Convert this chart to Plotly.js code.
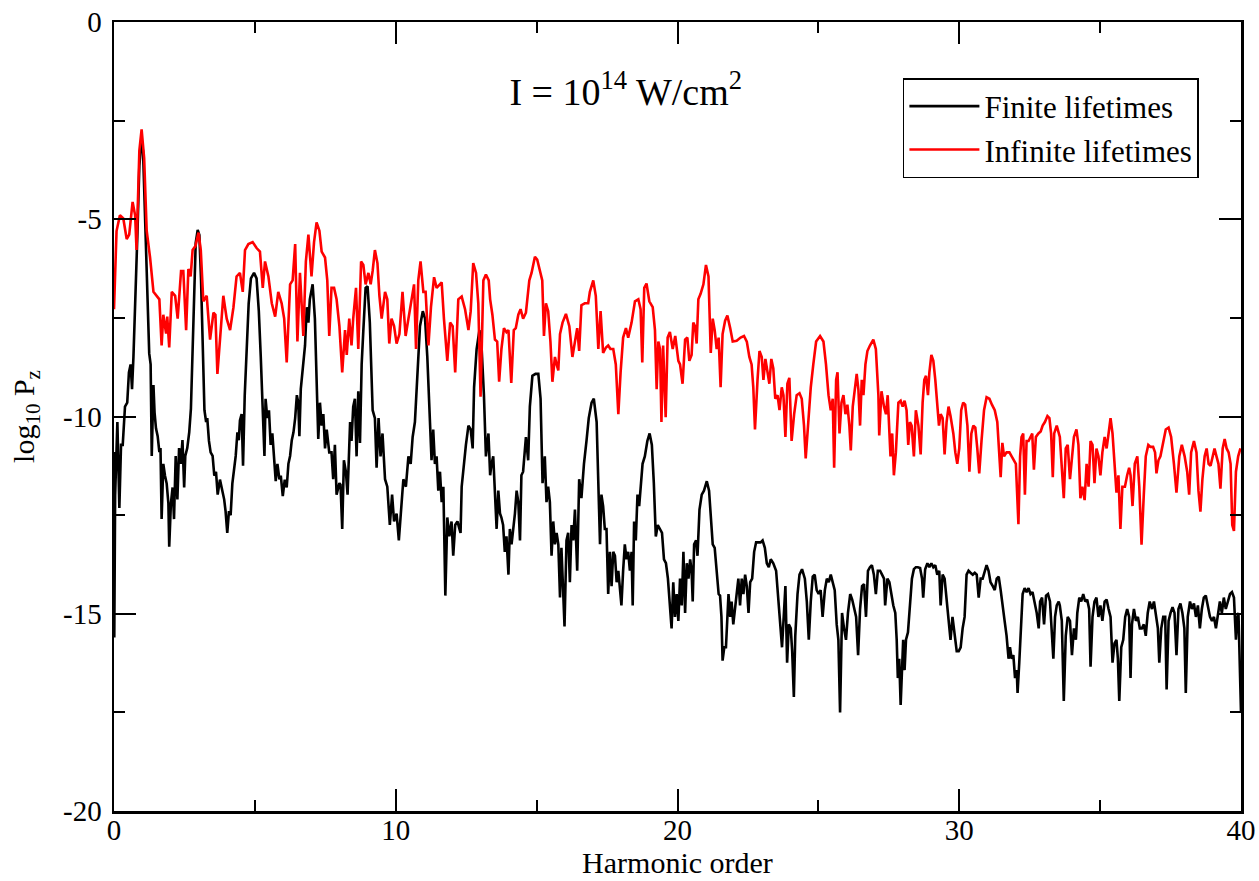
<!DOCTYPE html>
<html>
<head>
<meta charset="utf-8">
<script src="https://cdn.plot.ly/plotly-3.0.1.min.js"></script>
<style>html,body{margin:0;padding:0;background:#fff;}#chart{width:1259px;height:881px;}</style>
</head>
<body>
<div id="chart"></div>
<script>
// Series names
const seriesNames = ["Finite lifetimes", "Infinite lifetimes"];

// Finite lifetimes: [harmonic order, log10 Pz]
const finitePts = [
[0,-10.9],[0.01,-15.6],[0.04,-12.0],[0.12,-10.14],[0.19,-12.32],[0.25,-10.72],[0.31,-10.72],[0.39,-9.75],[0.47,-9.65],[0.53,-8.88],[0.59,-8.68],[0.64,-9.31],[0.69,-8.49],[0.76,-7.13],[0.83,-5.39],[0.90,-3.64],[0.97,-3.06],[1.03,-3.26],[1.10,-4.9],[1.18,-7.33],[1.25,-8.4],[1.30,-8.68],[1.34,-11.0],[1.40,-9.2],[1.44,-9.9],[1.49,-10.3],[1.55,-10.5],[1.61,-10.9],[1.65,-10.8],[1.69,-12.6],[1.75,-11.2],[1.81,-11.5],[1.87,-11.7],[1.93,-12.2],[1.96,-13.3],[2.02,-12.2],[2.08,-11.8],[2.13,-12.6],[2.19,-11.0],[2.25,-12.1],[2.31,-10.8],[2.37,-11.2],[2.43,-10.6],[2.49,-11.8],[2.53,-11.0],[2.60,-10.8],[2.67,-10.4],[2.73,-9.8],[2.79,-8.3],[2.84,-6.55],[2.90,-5.6],[2.97,-5.27],[3.03,-5.4],[3.09,-6.55],[3.15,-8.3],[3.21,-9.84],[3.27,-10.14],[3.31,-10.04],[3.37,-10.62],[3.43,-10.91],[3.50,-11.0],[3.56,-11.5],[3.62,-11.4],[3.68,-11.98],[3.76,-11.6],[3.83,-11.8],[3.91,-12.1],[3.96,-12.4],[4.02,-12.95],[4.08,-12.4],[4.14,-12.5],[4.20,-11.7],[4.26,-11.4],[4.32,-11.0],[4.38,-10.4],[4.43,-10.6],[4.47,-10.1],[4.53,-9.94],[4.58,-11.25],[4.64,-9.46],[4.71,-8.3],[4.78,-7.13],[4.86,-6.5],[4.97,-6.36],[5.06,-6.5],[5.14,-7.33],[5.21,-8.5],[5.28,-9.65],[5.34,-11.0],[5.38,-9.55],[5.44,-10.04],[5.50,-9.84],[5.56,-10.72],[5.62,-10.43],[5.68,-11.0],[5.74,-11.64],[5.80,-11.2],[5.87,-11.59],[5.92,-11.5],[5.99,-12.02],[6.06,-11.6],[6.13,-11.8],[6.19,-11.2],[6.25,-11.0],[6.31,-10.6],[6.37,-10.4],[6.43,-10.04],[6.49,-9.46],[6.54,-9.65],[6.58,-10.5],
[6.63,-9.3],[6.69,-8.88],[6.78,-8.2],[6.84,-7.23],[6.90,-7.62],[6.95,-7.03],[7.05,-6.65],[7.13,-7.52],[7.19,-9.26],[7.25,-10.57],[7.31,-9.65],[7.37,-10.23],[7.43,-9.94],[7.49,-10.81],[7.55,-10.33],[7.64,-10.91],[7.72,-10.91],[7.78,-11.59],[7.84,-10.72],[7.90,-11.98],[8.0,-11.69],[8.04,-11.73],[8.10,-12.85],[8.16,-11.11],[8.23,-11.40],[8.29,-11.98],[8.38,-10.14],[8.43,-10.62],[8.49,-9.75],[8.55,-9.55],[8.61,-11.01],[8.67,-9.36],[8.73,-10.67],[8.79,-8.68],[8.85,-7.81],[8.93,-6.74],[9.0,-6.70],[9.08,-7.62],[9.18,-9.84],[9.26,-10.04],[9.32,-11.30],[9.39,-10.04],[9.46,-11.01],[9.53,-10.43],[9.62,-11.59],[9.70,-11.78],[9.79,-12.75],[9.87,-11.98],[9.94,-12.66],[10.03,-12.46],[10.11,-13.14],[10.19,-12.36],[10.27,-11.59],[10.36,-11.78],[10.45,-11.01],[10.53,-11.20],[10.60,-10.52],[10.68,-10.14],[10.77,-8.78],[10.86,-7.71],[10.96,-7.33],[11.04,-7.52],[11.12,-8.49],[11.22,-10.23],[11.27,-11.11],[11.33,-10.33],[11.39,-11.20],[11.45,-11.01],[11.51,-11.88],[11.57,-11.40],[11.63,-12.17],[11.69,-11.78],[11.76,-14.54],[11.83,-12.56],[11.90,-13.04],[11.98,-12.66],[12.04,-13.53],[12.11,-12.75],[12.19,-12.66],[12.26,-12.85],[12.30,-12.95],[12.34,-11.78],[12.40,-11.30],[12.49,-10.72],[12.58,-10.23],[12.66,-10.33],[12.73,-10.81],[12.78,-9.26],[12.87,-8.29],[12.97,-7.81],[13.05,-8.29],[13.13,-9.46],[13.20,-11.01],[13.29,-10.43],[13.35,-11.49],
[13.40,-11.20],[13.46,-11.01],[13.52,-11.78],[13.58,-12.85],[13.64,-11.88],[13.70,-12.46],[13.75,-12.56],[13.81,-12.75],[13.87,-13.43],[13.93,-13.04],[14.0,-14.01],[14.05,-12.85],[14.11,-13.24],[14.17,-12.85],[14.23,-12.46],[14.29,-11.88],[14.35,-12.17],[14.41,-13.14],[14.46,-11.49],[14.52,-11.40],[14.62,-10.52],[14.70,-11.11],[14.76,-9.75],[14.85,-8.97],[14.96,-8.92],[15.06,-8.92],[15.14,-9.55],[15.21,-11.69],[15.29,-11.01],[15.35,-12.17],[15.41,-11.78],[15.47,-12.17],[15.53,-13.53],[15.59,-12.66],[15.65,-13.24],[15.71,-12.95],[15.77,-13.24],[15.83,-14.59],[15.88,-13.33],[15.94,-14.40],[15.99,-15.32],[16.06,-13.14],[16.12,-12.95],[16.18,-14.20],[16.24,-12.75],[16.30,-13.14],[16.36,-12.36],[16.44,-13.91],[16.51,-11.59],[16.59,-12.07],[16.68,-11.20],[16.77,-10.62],[16.85,-10.04],[16.95,-9.65],[17.03,-9.55],[17.13,-10.14],[17.20,-11.98],[17.25,-13.24],[17.30,-11.98],[17.36,-12.27],[17.42,-12.85],[17.48,-12.85],[17.54,-14.50],[17.60,-13.43],[17.66,-14.30],[17.72,-13.43],[17.78,-13.53],[17.84,-14.20],[17.90,-13.91],[17.96,-14.30],[18.01,-14.79],[18.07,-13.91],[18.13,-13.24],[18.19,-13.62],[18.25,-13.43],[18.31,-13.91],[18.37,-13.43],[18.41,-14.79],[18.46,-12.66],[18.52,-13.14],[18.58,-11.98],[18.64,-12.27],[18.70,-11.59],[18.76,-11.20],[18.84,-11.01],[18.93,-10.62],[19.01,-10.43],[19.09,-10.72],[19.16,-11.69],[19.23,-13.04],[19.30,-12.75],[19.38,-12.85],[19.45,-12.95],[19.52,-13.62],[19.59,-13.72],[19.66,-14.11],[19.73,-14.69],[19.79,-15.37],[19.85,-14.20],[19.91,-15.08],[19.97,-14.50],[20.03,-15.18],
[20.09,-14.11],[20.15,-14.79],[20.21,-13.43],[20.27,-14.98],[20.33,-13.72],[20.39,-14.11],[20.45,-13.62],[20.50,-13.91],[20.54,-14.69],[20.59,-13.24],[20.66,-13.14],[20.71,-13.53],[20.78,-12.36],[20.86,-11.98],[20.94,-11.88],[21.04,-11.64],[21.12,-11.88],[21.19,-12.66],[21.25,-13.24],[21.32,-13.33],[21.39,-13.91],[21.46,-14.50],[21.51,-14.54],[21.56,-15.08],[21.60,-16.19],[21.66,-15.85],[21.72,-15.85],[21.77,-14.79],[21.81,-14.50],[21.87,-15.08],[21.92,-14.69],[21.98,-15.27],[22.04,-14.88],[22.10,-14.59],[22.16,-14.11],[22.22,-14.79],[22.28,-14.11],[22.34,-14.50],[22.40,-14.01],[22.46,-14.30],[22.52,-14.98],[22.58,-14.20],[22.65,-14.11],[22.72,-13.43],[22.79,-13.19],[22.87,-13.19],[22.95,-13.19],[23.02,-13.14],[23.10,-13.33],[23.17,-13.72],[23.24,-13.82],[23.31,-13.62],[23.40,-13.72],[23.50,-13.91],[23.57,-14.50],[23.64,-15.18],[23.71,-15.85],[23.77,-15.08],[23.83,-14.30],[23.89,-16.24],[23.95,-15.27],[24.02,-15.37],[24.07,-15.95],[24.13,-17.11],[24.18,-15.56],[24.26,-14.50],[24.33,-14.01],[24.42,-13.87],[24.52,-14.11],[24.59,-14.69],[24.66,-15.66],[24.73,-14.69],[24.80,-14.06],[24.87,-14.01],[24.94,-14.40],[25.01,-14.50],[25.08,-14.40],[25.15,-15.08],[25.23,-14.40],[25.30,-14.11],[25.37,-14.20],[25.44,-14.01],[25.51,-14.20],[25.58,-14.40],[25.65,-15.27],[25.71,-15.66],[25.77,-17.50],[25.84,-14.98],[25.91,-15.37],[25.98,-15.66],[26.05,-14.98],[26.13,-14.50],[26.20,-14.64],[26.27,-14.88],[26.34,-15.08],[26.41,-16.05],[26.48,-14.88],[26.55,-14.30],[26.62,-14.25],[26.69,-15.08],[26.76,-13.91],[26.83,-13.82],
[26.90,-13.77],[26.97,-14.01],[27.04,-14.50],[27.11,-13.91],[27.19,-13.91],[27.26,-14.01],[27.33,-14.11],[27.37,-14.79],[27.45,-14.11],[27.52,-14.20],[27.59,-14.50],[27.66,-14.79],[27.73,-14.98],[27.78,-15.66],[27.82,-16.63],[27.87,-16.14],[27.92,-17.31],[27.97,-16.24],[28.01,-15.66],[28.06,-16.43],[28.11,-15.66],[28.18,-15.47],[28.25,-14.79],[28.32,-14.11],[28.39,-13.87],[28.46,-13.82],[28.53,-13.82],[28.61,-13.84],[28.68,-14.11],[28.72,-14.59],[28.79,-13.87],[28.87,-13.72],[28.94,-13.82],[29.01,-13.72],[29.08,-13.82],[29.15,-13.77],[29.22,-14.01],[29.29,-13.91],[29.34,-14.79],[29.41,-14.01],[29.48,-14.11],[29.55,-14.69],[29.62,-15.18],[29.69,-15.66],[29.76,-15.08],[29.84,-15.56],[29.91,-15.95],[29.98,-15.95],[30.05,-15.85],[30.12,-15.37],[30.19,-15.08],[30.26,-14.01],[30.33,-13.91],[30.40,-13.96],[30.48,-14.01],[30.55,-13.96],[30.62,-14.01],[30.69,-14.59],[30.76,-14.11],[30.83,-14.11],[30.90,-13.91],[30.97,-13.77],[31.04,-13.91],[31.11,-14.20],[31.19,-14.30],[31.26,-14.40],[31.33,-14.11],[31.40,-14.06],[31.47,-14.40],[31.54,-14.88],[31.61,-15.18],[31.68,-15.56],[31.75,-16.14],[31.80,-15.85],[31.86,-16.14],[31.92,-16.05],[31.98,-16.63],[32.04,-16.43],[32.07,-17.01],[32.13,-16.24],[32.18,-15.47],[32.25,-14.50],[32.32,-14.35],[32.39,-14.45],[32.46,-14.35],[32.53,-14.50],[32.60,-14.45],[32.68,-14.69],[32.75,-14.98],[32.82,-15.37],[32.87,-14.69],[32.94,-14.59],[33.01,-15.27],[33.08,-14.54],[33.15,-14.50],[33.22,-14.69],[33.29,-15.47],[33.34,-16.14],[33.40,-15.08],[33.46,-14.79],[33.53,-14.69],
[33.57,-14.79],[33.64,-15.18],[33.71,-17.21],[33.78,-15.56],[33.85,-15.08],[33.93,-15.18],[34.0,-16.05],[34.07,-15.37],[34.14,-15.66],[34.19,-14.98],[34.26,-14.59],[34.33,-14.69],[34.40,-14.50],[34.47,-14.69],[34.54,-14.64],[34.61,-14.88],[34.66,-16.34],[34.73,-15.08],[34.80,-14.69],[34.87,-14.59],[34.94,-15.08],[35.01,-14.79],[35.08,-15.18],[35.16,-14.69],[35.23,-14.64],[35.30,-14.88],[35.37,-15.08],[35.44,-16.24],[35.51,-15.75],[35.58,-15.66],[35.63,-16.14],[35.68,-17.21],[35.75,-15.85],[35.82,-15.66],[35.89,-15.08],[35.96,-14.88],[36.03,-15.08],[36.08,-16.63],[36.13,-15.27],[36.20,-14.88],[36.27,-15.18],[36.34,-15.08],[36.41,-15.37],[36.48,-15.37],[36.55,-15.27],[36.62,-15.56],[36.69,-14.98],[36.76,-14.69],[36.84,-14.88],[36.91,-14.69],[36.98,-14.98],[37.05,-15.37],[37.10,-16.24],[37.17,-15.37],[37.24,-15.08],[37.31,-15.08],[37.36,-16.92],[37.43,-15.18],[37.50,-14.98],[37.57,-14.83],[37.64,-14.98],[37.71,-16.05],[37.78,-14.88],[37.85,-14.74],[37.92,-14.98],[37.99,-15.37],[38.04,-17.01],[38.11,-15.08],[38.19,-14.69],[38.26,-14.88],[38.33,-14.74],[38.40,-15.08],[38.47,-14.79],[38.54,-15.37],[38.61,-14.88],[38.68,-14.59],[38.75,-14.54],[38.83,-14.79],[38.90,-15.08],[38.97,-15.18],[39.04,-15.08],[39.11,-15.37],[39.18,-14.98],[39.25,-14.69],[39.32,-14.98],[39.39,-14.59],[39.46,-14.88],[39.54,-14.69],[39.61,-14.50],[39.68,-14.45],[39.75,-14.59],[39.82,-15.66],[39.87,-15.08],[39.91,-14.98],[39.96,-16.34],[40.0,-17.50]
];

// Infinite lifetimes: [harmonic order, log10 Pz]
const infinitePts = [
[0.0,-7.28],[0.09,-5.3],[0.21,-4.9],[0.33,-4.98],[0.45,-5.5],[0.54,-5.39],[0.66,-4.56],[0.75,-4.9],[0.80,-5.78],[0.90,-3.26],[0.98,-2.72],[1.07,-3.45],[1.16,-5.29],[1.28,-5.97],[1.40,-6.84],[1.52,-6.94],[1.61,-7.03],[1.69,-8.2],[1.75,-7.42],[1.85,-7.9],[1.89,-7.47],[1.96,-8.25],[2.05,-6.84],[2.17,-6.94],[2.26,-7.52],[2.38,-6.31],[2.46,-6.31],[2.56,-7.81],[2.64,-6.26],[2.72,-6.45],[2.79,-5.78],[2.89,-5.68],[3.0,-5.34],[3.08,-5.78],[3.17,-7.08],[3.29,-6.94],[3.41,-8.05],[3.53,-7.37],[3.60,-7.42],[3.67,-8.92],[3.76,-8.0],[3.88,-6.94],[4.0,-7.52],[4.12,-7.81],[4.24,-7.23],[4.35,-6.45],[4.47,-6.36],[4.57,-6.84],[4.65,-5.78],[4.77,-5.63],[4.92,-5.58],[5.06,-5.73],[5.18,-5.82],[5.28,-6.74],[5.36,-6.07],[5.48,-6.45],[5.60,-7.13],[5.72,-7.47],[5.83,-6.84],[5.95,-7.13],[6.04,-7.52],[6.13,-8.63],[6.25,-6.65],[6.34,-6.55],[6.43,-5.63],[6.51,-8.10],[6.60,-6.36],
[6.72,-7.96],[6.81,-6.07],[6.90,-5.39],[7.01,-6.45],[7.10,-5.58],[7.19,-5.08],[7.29,-5.29],[7.37,-5.82],[7.49,-5.97],[7.57,-6.55],[7.64,-7.96],[7.72,-6.74],[7.81,-6.74],[7.90,-7.03],[8.0,-7.71],[8.10,-8.88],[8.20,-7.81],[8.26,-8.44],[8.35,-7.52],[8.43,-8.2],[8.49,-7.52],[8.59,-6.74],[8.67,-8.29],[8.77,-6.07],[8.85,-6.16],[8.93,-6.65],[9.03,-6.36],[9.11,-6.65],[9.18,-6.31],[9.26,-5.78],[9.35,-6.11],[9.42,-6.94],[9.50,-7.52],[9.62,-6.84],[9.70,-7.03],[9.77,-8.15],[9.85,-7.52],[9.94,-7.71],[10.03,-8.15],[10.13,-7.91],[10.24,-6.84],[10.35,-7.96],[10.45,-7.52],[10.56,-6.94],[10.65,-6.65],[10.72,-8.29],[10.80,-6.55],[10.88,-6.07],[10.98,-6.84],[11.06,-6.84],[11.16,-8.2],[11.25,-7.23],[11.36,-6.47],[11.45,-6.74],[11.55,-6.65],[11.63,-6.60],[11.71,-7.52],[11.83,-8.59],[11.93,-7.62],[12.02,-7.71],[12.11,-8.88],[12.22,-7.03],[12.34,-6.96],[12.46,-7.28],[12.58,-7.81],[12.66,-7.33],[12.75,-6.11],[12.85,-6.36],[12.93,-7.13],[13.01,-9.5],[13.11,-6.55],[13.20,-6.40],[13.30,-6.55],[13.35,-7.03],
[13.43,-7.42],[13.52,-8.05],[13.60,-8.1],[13.67,-9.12],[13.75,-8.29],[13.84,-7.76],[13.93,-7.86],[14.0,-7.81],[14.10,-9.15],[14.19,-7.81],[14.26,-7.76],[14.35,-7.42],[14.43,-7.28],[14.52,-7.52],[14.62,-7.37],[14.74,-6.55],[14.82,-6.36],[14.94,-5.95],[15.02,-6.02],[15.12,-6.31],[15.20,-6.55],[15.26,-7.96],[15.33,-7.13],[15.41,-7.33],[15.49,-8.1],[15.56,-9.12],[15.65,-8.49],[15.71,-8.68],[15.77,-8.83],[15.83,-7.91],[15.92,-7.62],[16.04,-7.40],[16.16,-7.71],[16.27,-8.49],[16.36,-8.05],[16.44,-7.76],[16.51,-8.34],[16.59,-7.18],[16.71,-7.13],[16.83,-7.13],[16.89,-6.84],[17.01,-6.55],[17.10,-6.94],[17.19,-8.29],[17.27,-7.33],[17.36,-8.39],[17.46,-8.25],[17.54,-8.2],[17.62,-8.29],[17.72,-8.29],[17.81,-8.68],[17.90,-9.94],[17.98,-8.88],[18.07,-8.0],[18.17,-7.76],[18.25,-8.0],[18.37,-7.62],[18.49,-7.08],[18.61,-7.03],[18.69,-7.28],[18.75,-8.63],[18.82,-6.74],[18.90,-6.63],[19.0,-7.08],[19.12,-7.23],[19.20,-7.81],[19.26,-9.31],[19.32,-8.1],[19.38,-8.29],[19.43,-10.14],[19.49,-8.2],[19.58,-10.02],[19.65,-8.0],[19.73,-7.86],[19.83,-8.29],[19.92,-7.96],[20.03,-8.59],
[20.09,-8.68],[20.18,-9.17],[20.27,-8.05],[20.35,-8.0],[20.42,-8.59],[20.50,-8.44],[20.56,-7.62],[20.62,-7.71],[20.68,-8.15],[20.74,-7.03],[20.82,-6.89],[20.92,-6.65],[21.01,-6.16],[21.10,-6.45],[21.18,-8.39],[21.25,-7.52],[21.32,-7.81],[21.39,-8.29],[21.46,-8.0],[21.53,-9.26],[21.60,-7.91],[21.69,-7.57],[21.77,-7.44],[21.87,-7.76],[21.96,-8.10],[22.10,-8.08],[22.24,-8.0],[22.36,-7.96],[22.46,-8.1],[22.55,-8.49],[22.63,-8.68],[22.69,-9.26],[22.75,-10.33],[22.84,-9.07],[22.91,-8.34],[22.99,-8.49],[23.05,-9.07],[23.12,-8.54],[23.19,-8.88],[23.26,-9.17],[23.33,-8.54],[23.40,-8.78],[23.47,-9.55],[23.55,-9.46],[23.62,-9.84],[23.70,-9.26],[23.76,-9.46],[23.83,-10.52],[23.90,-9.17],[23.97,-9.02],[24.05,-10.62],[24.14,-9.94],[24.23,-9.46],[24.33,-9.41],[24.41,-9.55],[24.49,-10.23],[24.55,-11.06],[24.65,-9.94],[24.73,-9.26],[24.82,-8.68],[24.92,-8.10],[25.06,-7.96],[25.18,-8.10],[25.27,-8.68],[25.36,-9.46],[25.44,-9.84],[25.51,-9.55],[25.56,-11.30],[25.63,-9.07],[25.68,-8.88],[25.75,-10.43],[25.82,-9.65],[25.89,-9.46],[25.96,-9.94],[26.03,-9.70],[26.10,-10.23],[26.15,-10.86],[26.22,-9.75],[26.30,-9.26],[26.36,-8.92],[26.42,-9.31],[26.48,-10.23],[26.54,-9.07],[26.60,-9.46],[26.67,-8.68],[26.74,-8.34],[26.83,-8.2],
[26.95,-8.05],[27.04,-8.29],[27.13,-9.46],[27.16,-10.48],[27.24,-9.36],[27.33,-9.75],[27.40,-9.94],[27.46,-9.46],[27.52,-10.23],[27.56,-11.01],[27.62,-10.43],[27.68,-11.49],[27.75,-10.91],[27.84,-9.65],[27.92,-9.60],[27.99,-9.75],[28.06,-9.60],[28.13,-9.84],[28.19,-10.72],[28.25,-10.14],[28.31,-10.23],[28.39,-11.01],[28.46,-9.84],[28.55,-10.23],[28.63,-10.96],[28.70,-9.65],[28.76,-9.07],[28.82,-8.97],[28.89,-9.46],[28.94,-8.88],[29.01,-8.44],[29.08,-8.59],[29.15,-9.07],[29.22,-9.65],[29.28,-10.23],[29.34,-9.94],[29.41,-10.04],[29.48,-10.96],[29.55,-10.14],[29.62,-9.75],[29.69,-9.99],[29.79,-10.43],[29.86,-10.91],[29.93,-11.20],[30.00,-10.81],[30.07,-9.84],[30.14,-9.65],[30.21,-9.70],[30.29,-10.23],[30.36,-11.40],[30.43,-10.43],[30.50,-10.23],[30.57,-10.28],[30.64,-10.81],[30.71,-11.44],[30.79,-10.62],[30.88,-9.84],[30.97,-9.51],[31.07,-9.55],[31.16,-9.70],[31.26,-9.84],[31.35,-10.14],[31.42,-10.91],[31.47,-11.54],[31.53,-10.67],[31.59,-11.01],[31.68,-10.91],[31.78,-10.91],[31.86,-11.01],[31.94,-11.11],[32.01,-11.20],[32.10,-12.73],[32.16,-11.01],[32.21,-10.52],[32.27,-10.43],[32.33,-11.98],[32.39,-10.62],[32.46,-10.62],[32.53,-10.52],[32.59,-10.43],[32.65,-11.35],[32.72,-10.52],[32.81,-10.43],[32.89,-10.38],[32.96,-10.23],[33.04,-10.14],[33.13,-9.99],[33.20,-10.04],[33.26,-10.43],[33.32,-11.54],[33.37,-10.43],[33.46,-10.23],[33.57,-10.52],
[33.64,-11.20],[33.71,-12.07],[33.78,-10.81],[33.85,-10.72],[33.93,-11.59],[34.0,-11.01],[34.07,-10.52],[34.16,-10.33],[34.23,-10.72],[34.30,-12.07],[34.37,-11.78],[34.45,-12.12],[34.52,-11.20],[34.59,-11.78],[34.66,-10.62],[34.73,-10.72],[34.80,-11.69],[34.87,-10.81],[34.94,-11.01],[35.01,-11.49],[35.08,-10.91],[35.16,-10.52],[35.23,-10.81],[35.30,-10.43],[35.37,-10.04],[35.44,-10.43],[35.51,-11.20],[35.58,-11.93],[35.65,-11.49],[35.72,-12.85],[35.79,-11.78],[35.88,-11.78],[35.96,-11.49],[36.03,-11.30],[36.08,-11.49],[36.15,-12.27],[36.23,-11.20],[36.32,-11.01],[36.39,-11.78],[36.47,-13.25],[36.55,-11.98],[36.62,-11.01],[36.71,-10.72],[36.79,-10.77],[36.88,-10.77],[36.95,-10.91],[37.0,-11.44],[37.07,-11.11],[37.14,-11.01],[37.24,-10.67],[37.33,-10.33],[37.43,-10.28],[37.52,-10.52],[37.62,-11.20],[37.71,-11.93],[37.81,-11.01],[37.90,-10.72],[38.0,-11.01],[38.09,-11.40],[38.16,-11.98],[38.23,-10.91],[38.33,-10.62],[38.42,-10.91],[38.49,-11.88],[38.56,-12.41],[38.63,-11.59],[38.71,-11.01],[38.78,-10.81],[38.85,-11.20],[38.92,-11.25],[38.99,-11.01],[39.06,-10.81],[39.13,-11.01],[39.20,-11.20],[39.27,-11.83],[39.35,-10.81],[39.42,-10.57],[39.49,-10.81],[39.56,-10.91],[39.63,-11.20],[39.69,-12.75],[39.75,-12.90],[39.82,-11.40],[39.90,-11.01],[39.98,-10.81]
];

// Tick labels
const xTickVals = [0, 10, 20, 30, 40];
const xTickText = ["0", "10", "20", "30", "40"];
const yTickVals = [-20, -15, -10, -5, 0];
const yTickText = ["-20", "-15", "-10", "-5", "0"];

const FONT = "Liberation Serif, Times New Roman, serif";

const traces = [
  {
    x: finitePts.map(p => p[0]), y: finitePts.map(p => p[1]),
    type: "scatter", mode: "lines", name: seriesNames[0],
    line: {color: "#000000", width: 2.6}
  },
  {
    x: infinitePts.map(p => p[0]), y: infinitePts.map(p => p[1]),
    type: "scatter", mode: "lines", name: seriesNames[1],
    line: {color: "#ff0000", width: 2.6}
  }
];

const axisCommon = {
  showline: true, linecolor: "#000", linewidth: 2.5, mirror: "ticks",
  ticks: "inside", ticklen: 22, tickwidth: 2, tickcolor: "#000",
  showgrid: false, zeroline: false, tickmode: "array",
  tickfont: {family: FONT, size: 29, color: "#000"}
};

const layout = {
  width: 1259, height: 881,
  margin: {l: 114, r: 18, t: 22, b: 70},
  paper_bgcolor: "#fff", plot_bgcolor: "#fff",
  showlegend: true,
  title: {
    text: "I = 10<sup>14</sup> W/cm<sup>2</sup>",
    font: {family: FONT, size: 38, color: "#000"},
    x: 0.497, xanchor: "center", xref: "container",
    y: 0.8956, yanchor: "middle", yref: "container"
  },
  xaxis: Object.assign({}, axisCommon, {
    range: [0, 40], tickvals: xTickVals, ticktext: xTickText,
    ticklabelstandoff: -8,
    minor: {tickmode: "linear", tick0: 0, dtick: 5, ticks: "inside", ticklen: 11, tickwidth: 2, tickcolor: "#000", showgrid: false},
    title: {text: "Harmonic order", font: {family: FONT, size: 30, color: "#000"}, standoff: 0}
  }),
  yaxis: Object.assign({}, axisCommon, {
    range: [-20, 0], tickvals: yTickVals, ticktext: yTickText,
    ticklabelstandoff: 4,
    minor: {tickmode: "linear", tick0: 0, dtick: 2.5, ticks: "inside", ticklen: 11, tickwidth: 2, tickcolor: "#000", showgrid: false},
    title: {text: "log<sub>10</sub> P<sub>z</sub>", font: {family: FONT, size: 30, color: "#000"}, standoff: 20}
  }),
  legend: {
    x: 0.700, y: 0.929, xanchor: "left", yanchor: "top",
    bgcolor: "#fff", bordercolor: "#000", borderwidth: 1.5,
    itemwidth: 70,
    font: {family: FONT, size: 31, color: "#000"}
  }
};

Plotly.newPlot("chart", traces, layout, {displayModeBar: false, staticPlot: true});
</script>
</body>
</html>
